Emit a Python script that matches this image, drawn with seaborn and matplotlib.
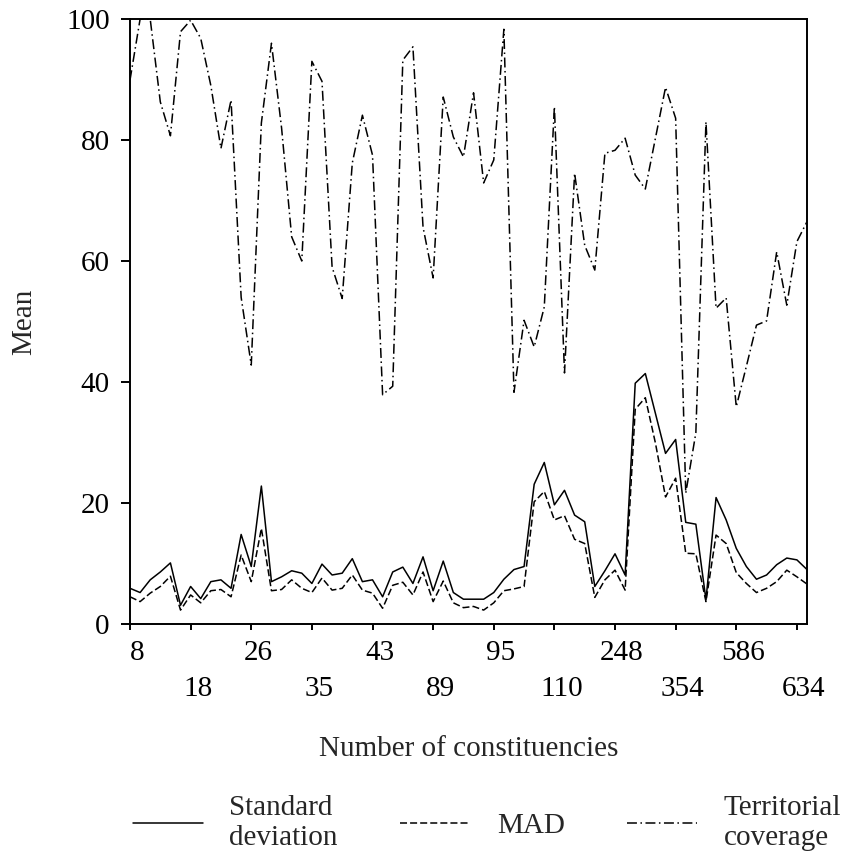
import numpy as np
import pandas as pd
import matplotlib
matplotlib.use("Agg")
import matplotlib.pyplot as plt
import matplotlib.transforms as mtransforms
import seaborn as sns

# ---- data ----
tick_labels = ["8", "18", "26", "35", "43", "89", "95", "110", "248", "354", "586", "634"]

sd = [5.9, 5.2, 7.3, 8.6, 10.1, 3.1, 6.2, 4.2, 7.0, 7.3,
      5.9, 14.8, 9.5, 22.8, 7.0, 7.8, 8.8, 8.4, 6.7, 9.9,
      8.1, 8.4, 10.8, 7.0, 7.3, 4.5, 8.6, 9.4, 6.7, 11.1,
      5.5, 10.4, 5.2, 4.1, 4.1, 4.1, 5.2, 7.4, 9.0, 9.5,
      23.1, 26.7, 19.7, 22.1, 18.0, 16.9, 6.2, 8.8, 11.6, 8.1,
      39.8, 41.4, 34.8, 28.2, 30.5, 16.8, 16.5, 4.0, 20.9, 17.2,
      12.5, 9.5, 7.4, 8.1, 9.8, 10.9, 10.6, 9.0]

mad = [4.5, 3.7, 5.1, 6.2, 7.9, 2.3, 4.8, 3.5, 5.5, 5.7,
       4.5, 11.4, 7.0, 15.8, 5.5, 5.7, 7.3, 5.9, 5.2, 7.6,
       5.6, 5.9, 8.1, 5.6, 5.1, 2.6, 6.4, 6.9, 4.8, 8.6,
       3.7, 7.1, 3.5, 2.7, 2.9, 2.3, 3.5, 5.5, 5.8, 6.2,
       20.2, 21.9, 17.2, 17.9, 14.0, 13.3, 4.4, 7.3, 8.9, 5.6,
       35.5, 37.4, 29.9, 21.0, 24.1, 11.7, 11.6, 3.7, 14.7, 13.3,
       8.5, 6.7, 5.2, 5.9, 7.0, 8.9, 7.8, 6.6]

territorial = [89.9, 100, 100, 86.3, 80.7, 97.9, 99.8, 96.8, 89.0, 78.6,
               86.6, 54.0, 42.8, 82.8, 96.0, 82.0, 64.0, 60.0, 93.0, 89.7,
               59.0, 53.8, 76.2, 84.1, 77.5, 37.9, 39.3, 93.2, 95.4, 65.6,
               57.2, 87.1, 80.5, 77.2, 87.8, 72.9, 76.7, 98.3, 38.3, 50.2,
               45.8, 52.4, 85.5, 41.5, 74.5, 62.6, 58.5, 77.8, 78.3, 80.3,
               74.2, 71.9, 80.3, 88.7, 83.6, 21.6, 31.6, 83.0, 52.2, 53.9,
               35.9, 42.6, 49.4, 50.1, 61.5, 52.7, 63.2, 66.5]

series_names = ["Standard\ndeviation", "MAD", "Territorial\ncoverage"]

idx = list(range(len(sd)))
df = pd.concat([
    pd.DataFrame({"idx": idx, "value": sd, "series": series_names[0]}),
    pd.DataFrame({"idx": idx, "value": mad, "series": series_names[1]}),
    pd.DataFrame({"idx": idx, "value": territorial, "series": series_names[2]}),
])

# ---- style ----
sns.set_style("ticks")
plt.rcParams["font.family"] = ["Liberation Serif", "DejaVu Serif"]
plt.rcParams["lines.linewidth"] = 1.1
FS = 21

fig = plt.figure(figsize=(8.46, 8.56), dpi=100)
ax = fig.add_axes([130 / 846, 1 - 624 / 856, (807 - 130) / 846, (624 - 19) / 856])

dashes = {
    series_names[0]: "",
    series_names[1]: (4.6, 2.0),
    series_names[2]: (6.5, 2.3, 1.0, 2.3),
}
sns.lineplot(data=df, x="idx", y="value", style="series", style_order=series_names,
             dashes=dashes, color="black", linewidth=1.1, errorbar=None, ax=ax)

ax.set_xlim(0, len(sd) - 1)
ax.set_ylim(0, 100)
ax.set_yticks([0, 20, 40, 60, 80, 100])
ax.set_yticklabels(["0", "20", "40", "60", "80", "100"], fontsize=FS)

tick_pos = [6 * k for k in range(len(tick_labels))]
ax.set_xticks(tick_pos[0::2], tick_labels[0::2], fontsize=FS)
ax.set_xticks(tick_pos[1::2], tick_labels[1::2], minor=True, fontsize=FS)

for side in ["left", "right", "top", "bottom"]:
    ax.spines[side].set_visible(True)
    ax.spines[side].set_linewidth(1.4)
    ax.spines[side].set_color("black")

ax.tick_params(axis="y", length=6.5, width=1.4, pad=8, colors="black")
ax.tick_params(axis="x", which="major", length=4.5, width=1.4, pad=7, colors="black")
ax.tick_params(axis="x", which="minor", length=4.5, width=1.4, pad=33, colors="black")

offset = mtransforms.ScaledTranslation(0.07, 0, fig.dpi_scale_trans)
for lab in ax.get_xticklabels(which="both"):
    lab.set_transform(lab.get_transform() + offset)

ax.set_xlabel("Number of constituencies", fontsize=FS)
ax.xaxis.set_label_coords(0.5, -0.185)
ax.set_ylabel("Mean", fontsize=FS, labelpad=21)

sns.move_legend(ax, loc="center", bbox_to_anchor=(487 / 846, 1 - 823 / 856),
                bbox_transform=fig.transFigure, ncol=3, frameon=False, title=None,
                fontsize=FS, handlelength=2.4, handletextpad=0.9, columnspacing=2.15,
                borderpad=0.2, borderaxespad=0.0)

fig.savefig("out.png", dpi=100)
